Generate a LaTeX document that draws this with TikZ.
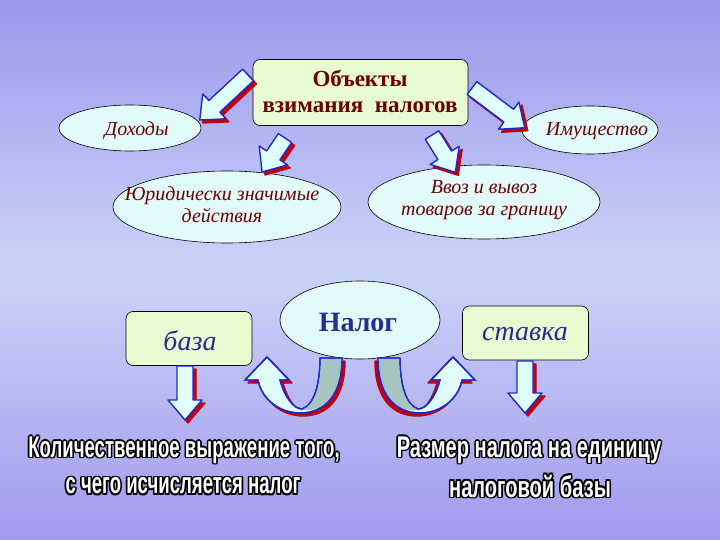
\documentclass[tikz,border=0pt]{standalone}
\usepackage{fontspec}
\setmainfont{Liberation Serif}
\newfontfamily\bottomfont{Liberation Sans}
\usetikzlibrary{shapes.geometric}
\definecolor{bgtop}{HTML}{9A98EC}
\definecolor{bgmid}{HTML}{CAD4F8}
\definecolor{bgbot}{HTML}{A29AEE}
\definecolor{boxfill}{HTML}{E8FCD2}
\definecolor{ellfill}{HTML}{E2FAFA}
\definecolor{darkred}{HTML}{6E0000}
\definecolor{navy}{HTML}{2A2A90}
\definecolor{arrfill}{HTML}{E0FFFF}
\definecolor{arrline}{HTML}{1E2ACF}
\definecolor{shadowred}{HTML}{C00010}
\definecolor{backgray}{HTML}{A8C4C0}
\tikzset{
  ell/.style={ellipse,draw=black,line width=0.6pt,fill=ellfill,inner sep=0pt},
  rbox/.style={rectangle,rounded corners=7pt,draw=black,line width=0.6pt,fill=boxfill,inner sep=0pt},
  ittext/.style={font=\itshape\fontsize{20}{22}\selectfont,text=darkred,align=center},
  arr/.style={fill=arrfill,draw=arrline,line width=1.4pt,line join=round},
  arrsh/.style={fill=shadowred,draw=shadowred,line width=1.4pt,line join=round},
  bottomtext/.style={font=\bottomfont\bfseries\fontsize{30}{32}\selectfont},
}
\newcommand\barrowshape[1]{(0,-8)--(#1-20,-8)--(#1-20,-17)--(#1,0)--(#1-20,17)--(#1-20,8)--(0,8)--cycle}
\newcommand\barrow[4]{%
  \begin{scope}[shift={(#1+3,#2+3)}]\begin{scope}[rotate=#3]\path[arrsh] \barrowshape{#4};\end{scope}\end{scope}
  \begin{scope}[shift={(#1,#2)}]\begin{scope}[rotate=#3]\path[arr] \barrowshape{#4};\end{scope}\end{scope}}
\newcommand\curvshape{(342,358) .. controls (342,395) and (325,413) .. (300,413) .. controls (280,413) and (262,400) .. (258,380) -- (245,380) -- (267,357) -- (289,380) -- (280,380) .. controls (285,398) and (294,409) .. (302,409) .. controls (314,405) and (320,385) .. (320,358) -- cycle}
\newcommand\curvarrow{%
  \begin{scope}[shift={(3,3)}]\path[arrsh] \curvshape;\end{scope}
  \path[arr] \curvshape;
  \path[fill=backgray] (341,359) .. controls (341,395) and (325,412) .. (302,410) .. controls (314,405) and (321,385) .. (321,359) -- cycle;
  \path[draw=arrline,line width=1.4pt] \curvshape;}
\newcommand\sq[2]{\scalebox{#1}[1]{#2}}
\newcommand\outl[4]{%
  \node[bottomtext,text=black] at (#1-1.6,#2) {\sq{#3}{#4}};\node[bottomtext,text=black] at (#1+1.6,#2) {\sq{#3}{#4}};
  \node[bottomtext,text=black] at (#1,#2-1.6) {\sq{#3}{#4}};\node[bottomtext,text=black] at (#1,#2+1.6) {\sq{#3}{#4}};
  \node[bottomtext,text=black] at (#1-1.2,#2-1.2) {\sq{#3}{#4}};\node[bottomtext,text=black] at (#1+1.2,#2+1.2) {\sq{#3}{#4}};
  \node[bottomtext,text=black] at (#1+1.2,#2-1.2) {\sq{#3}{#4}};\node[bottomtext,text=black] at (#1-1.2,#2+1.2) {\sq{#3}{#4}};
  \node[bottomtext,text=white] at (#1,#2) {\sq{#3}{#4}};}
\begin{document}
\begin{tikzpicture}[x=1pt,y=-1pt]
\useasboundingbox (0,0) rectangle (720,540);
\shade[top color=bgtop,bottom color=bgbot,middle color=bgmid] (0,0) rectangle (720,540);

\node[ell,minimum width=142pt,minimum height=46pt] (dohody) at (130,128) {};
\node[ittext,anchor=west] (dohodyt) at (101,131) {Доходы};
\node[ell,minimum width=136pt,minimum height=48pt] (imush) at (590,130) {};
\node[ittext] at (597,131) {Имущество};
\node[ell,minimum width=228pt,minimum height=72pt] (jur) at (227,207) {};
\node[ittext] at (222,205) {Юридически значимые\\действия};
\node[ell,minimum width=232pt,minimum height=74pt] (vvoz) at (484,202) {};
\node[ittext] at (484,200) {Ввоз и вывоз\\товаров за границу};
\node[rbox,minimum width=215pt,minimum height=66pt] (obj) at (360.5,92.5) {};
\node[font=\bfseries\fontsize{23}{26}\selectfont,text=darkred,align=center] at (360,91) {Объекты\\взимания\ \ налогов};

\barrow{248}{75}{223}{66}
\barrow{472}{88}{-37}{66}
\barrow{285}{138}{236}{41}
\barrow{432}{135}{-58}{44}

\node[ell,minimum width=160pt,minimum height=78pt] (nalog) at (360,320) {};
\node[font=\bfseries\fontsize{28}{30}\selectfont,text=navy] at (358,322) {Налог};
\node[rbox,minimum width=126pt,minimum height=54pt] (baza) at (189,338.5) {};
\node[font=\itshape\fontsize{28}{30}\selectfont,text=navy] at (190,341) {база};
\node[rbox,minimum width=126pt,minimum height=54pt] (stavka) at (525.5,333) {};
\node[font=\itshape\fontsize{28}{30}\selectfont,text=navy] at (525,334) {ставка};

\barrow{185}{366}{-90}{54}
\barrow{525}{361}{-90}{52}

\curvarrow
\begin{scope}[shift={(720,0)},xscale=-1]\curvarrow\end{scope}

\outl{184}{450}{0.62}{Количественное выражение того,}
\outl{183}{486}{0.62}{с чего исчисляется налог}
\outl{529}{450}{0.67}{Размер налога на единицу}
\outl{530}{486}{0.67}{налоговой базы}
\end{tikzpicture}
\end{document}
